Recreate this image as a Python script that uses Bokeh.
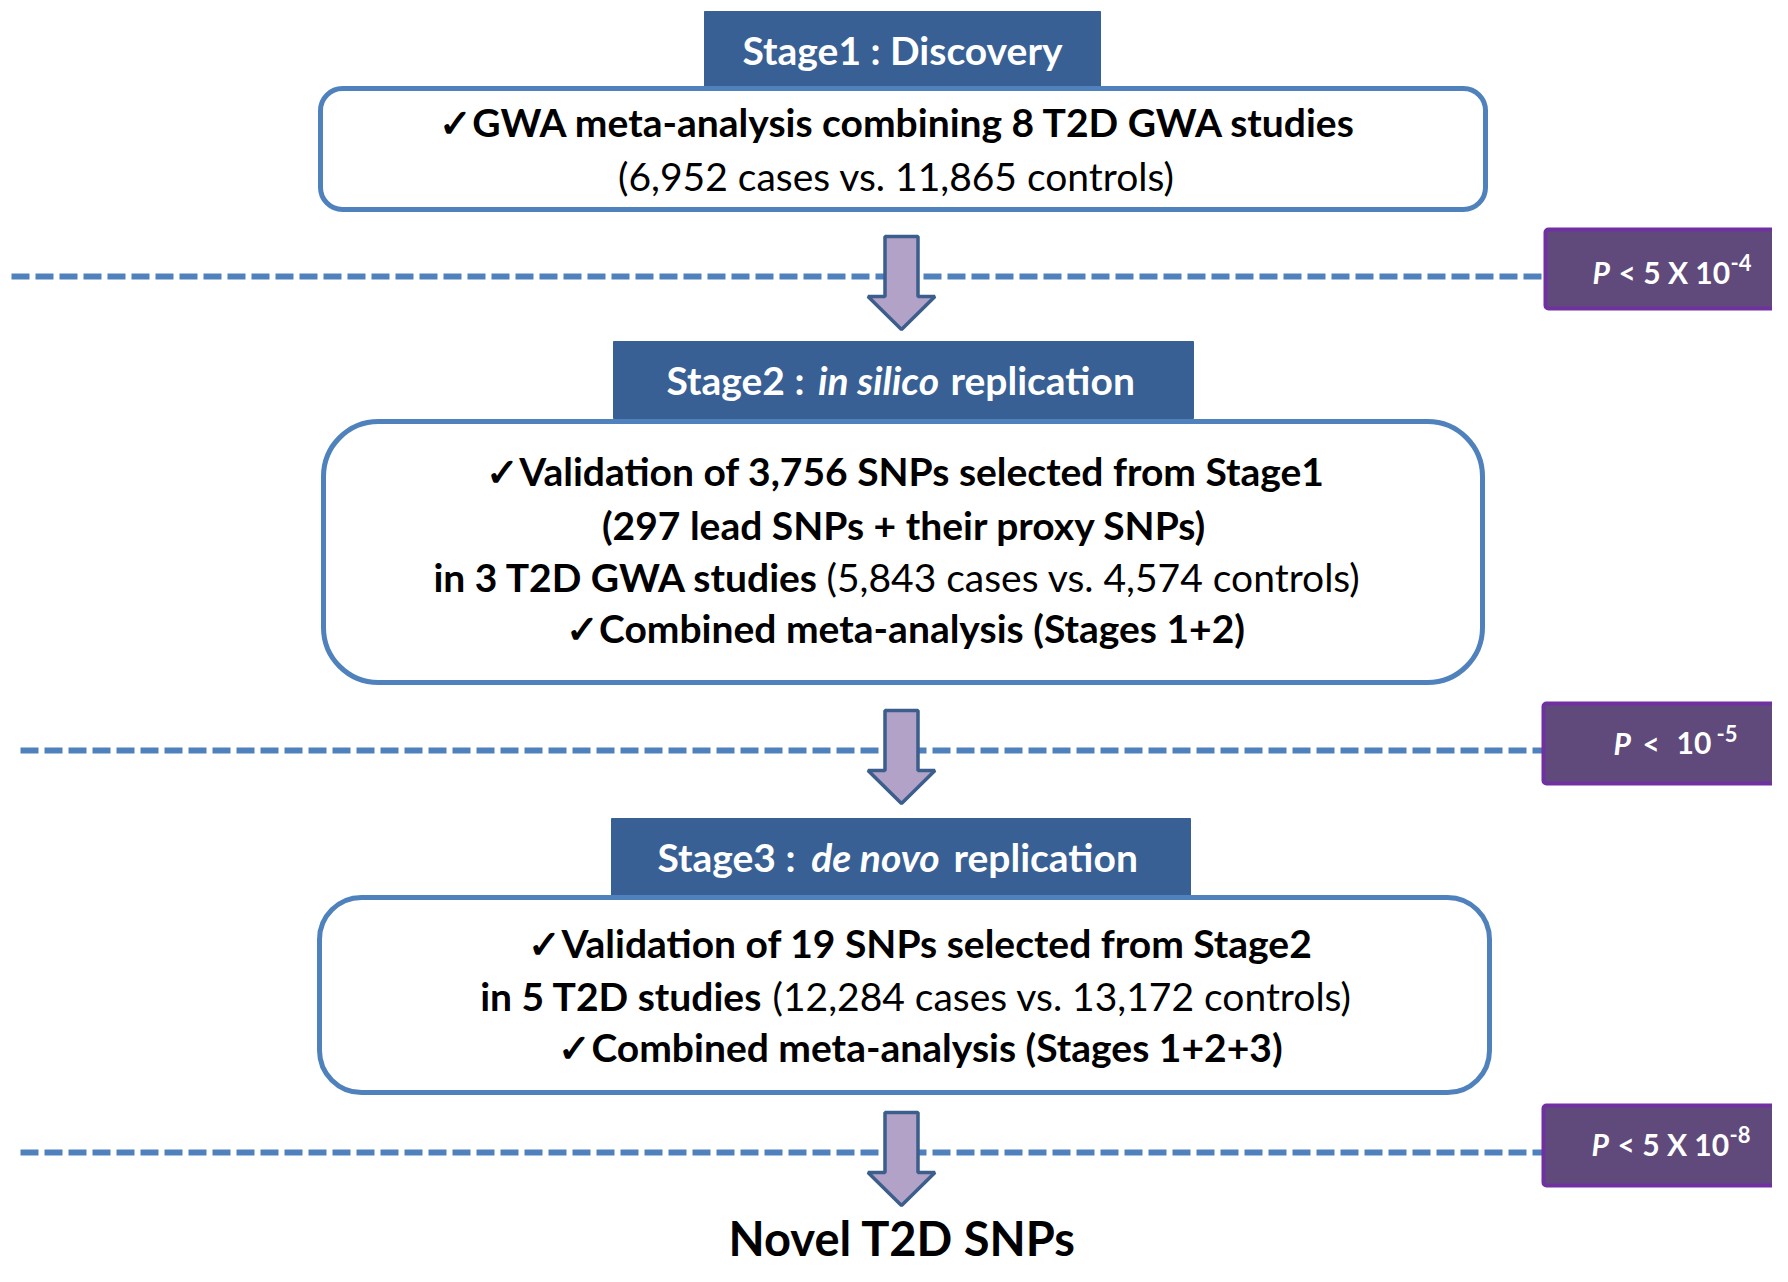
from bokeh.plotting import figure
from bokeh.models import Range1d, ColumnDataSource
from bokeh.core.properties import value
from bokeh.embed import file_html
from bokeh.resources import INLINE

FONT = "Lato"

# ---------------- data (texts) ----------------
stage_headers = ["Stage1 : Discovery", "Stage2 :", "Stage3 :"]
stage_italic = ["", "in silico", "de novo"]
stage_suffix = ["", "replication", "replication"]

box1_lines = ["\u2713GWA meta-analysis combining 8 T2D GWA studies",
              "(6,952 cases vs. 11,865 controls)"]
box2_lines = ["\u2713Validation of 3,756 SNPs selected from Stage1",
              "(297 lead SNPs + their proxy SNPs)",
              "in 3 T2D GWA studies",
              "(5,843 cases vs. 4,574 controls)",
              "\u2713Combined meta-analysis (Stages 1+2)"]
box3_lines = ["\u2713Validation of 19 SNPs selected from Stage2",
              "in 5 T2D studies",
              "(12,284 cases vs. 13,172 controls)",
              "\u2713Combined meta-analysis (Stages 1+2+3)"]
thresholds_base = ["< 5 X 10", "<  10", "< 5 X 10"]
thresholds_exp = ["-4", "-5", "-8"]
final_label = "Novel T2D SNPs"

# ---------------- layout ----------------
W, H = 1772, 1266
p = figure(width=W, height=H, output_backend="svg", toolbar_location=None,
           x_range=Range1d(0, W), y_range=Range1d(H, 0),
           min_border=0)
p.axis.visible = False
p.grid.visible = False
p.outline_line_color = None
p.background_fill_color = "white"
p.border_fill_color = "white"

HEAD = "#386094"
BORDER = "#4F81BD"

# stage headers
hdr = dict(left=[704, 613, 611], right=[1100, 1193, 1190],
           top=[11, 341, 818], bottom=[86, 418, 895])
p.quad(source=ColumnDataSource(hdr), left="left", right="right", top="top",
       bottom="bottom", fill_color=HEAD, line_color=HEAD, line_width=1)

# stage boxes
for (l, r, t, b, rad) in [(320, 1485, 88, 209, 22), (323, 1482, 421, 682, 55),
                          (319, 1489, 897, 1092, 42)]:
    p.quad(left=[l], right=[r], top=[t], bottom=[b], fill_color="white",
           line_color=BORDER, line_width=5, border_radius=rad)

# dashed threshold lines
line_y = [276, 750, 1152]
line_x0 = [11, 20, 20]
for y0, x0 in zip(line_y, line_x0):
    p.segment(x0=[x0], y0=[y0], x1=[1545], y1=[y0], line_color=BORDER,
              line_width=6, line_dash="18 6")

# threshold boxes
tb = dict(left=[1545, 1543, 1543], right=[1800, 1800, 1800],
          top=[229, 703, 1105], bottom=[308, 783, 1185])
p.quad(source=ColumnDataSource(tb), left="left", right="right", top="top",
       bottom="bottom", fill_color="#5F4A7B", line_color="#7030A0", line_width=4,
       border_radius=3)

# arrows
def arrow(cx, top):
    sw, hw, sl, hl = 16.5, 33.5, 60, 33
    xs = [cx - sw, cx + sw, cx + sw, cx + hw, cx, cx - hw, cx - sw]
    ys = [top, top, top + sl, top + sl, top + sl + hl, top + sl, top + sl]
    return xs, ys

for top in [236, 710, 1112]:
    xs, ys = arrow(901, top)
    p.patch(xs, ys, fill_color="#B3A2C7", line_color="#3B5E8C", line_width=3.5)

def txt(items, style, size, align, color="black", baseline="middle"):
    src = ColumnDataSource(dict(x=[i[1] for i in items], y=[i[2] for i in items],
                                t=[i[0] for i in items]))
    p.text(x="x", y="y", text="t", source=src, text_font=value(FONT),
           text_font_style=style, text_font_size=size, text_align=align,
           text_baseline=baseline, text_color=color)

BOX_SIZE = "39px"
# box texts
txt([(box1_lines[0], 898, 121), (box2_lines[0], 905, 470),
     (box2_lines[1], 904, 524), (box2_lines[4], 905, 627),
     (box3_lines[0], 920, 942), (box3_lines[3], 920, 1046)],
    "bold", BOX_SIZE, "center")
txt([(box2_lines[2], 819, 576), (box3_lines[1], 762, 995)], "bold", BOX_SIZE, "right")
txt([(box2_lines[3], 826, 576), (box3_lines[2], 772, 995)], "normal", BOX_SIZE, "left")
txt([(box1_lines[1], 896, 175)], "normal", BOX_SIZE, "center")

# header texts
HS = "39px"
txt([(stage_headers[0], 902, 49)], "bold", HS, "center", "white")
txt([(stage_headers[1], 804, 379), (stage_headers[2], 795, 856)], "bold", HS, "right", "white")
txt([(stage_italic[1], 878, 379), (stage_italic[2], 875, 856)], "bold italic", HS, "center", "white")
txt([(stage_suffix[1], 950, 379), (stage_suffix[2], 953, 856)], "bold", HS, "left", "white")

# threshold texts
lt, gt = thresholds_base[1].split("  ")
txt([("P", 1592, 271), ("P", 1613, 742), ("P", 1591, 1143)], "bold italic", "30px", "left", "white")
txt([(thresholds_base[0], 1618, 271), (lt, 1642, 742), (gt, 1676, 742),
     (thresholds_base[2], 1617, 1143)], "bold", "30px", "left", "white")
txt([(thresholds_exp[0], 1730, 262), (thresholds_exp[1], 1716, 733),
     (thresholds_exp[2], 1729, 1134)], "bold", "22px", "left", "white")

# final label
txt([(final_label, 902, 1237)], "bold", "47px", "center")

open("out.html", "w").write(file_html(p, INLINE))
